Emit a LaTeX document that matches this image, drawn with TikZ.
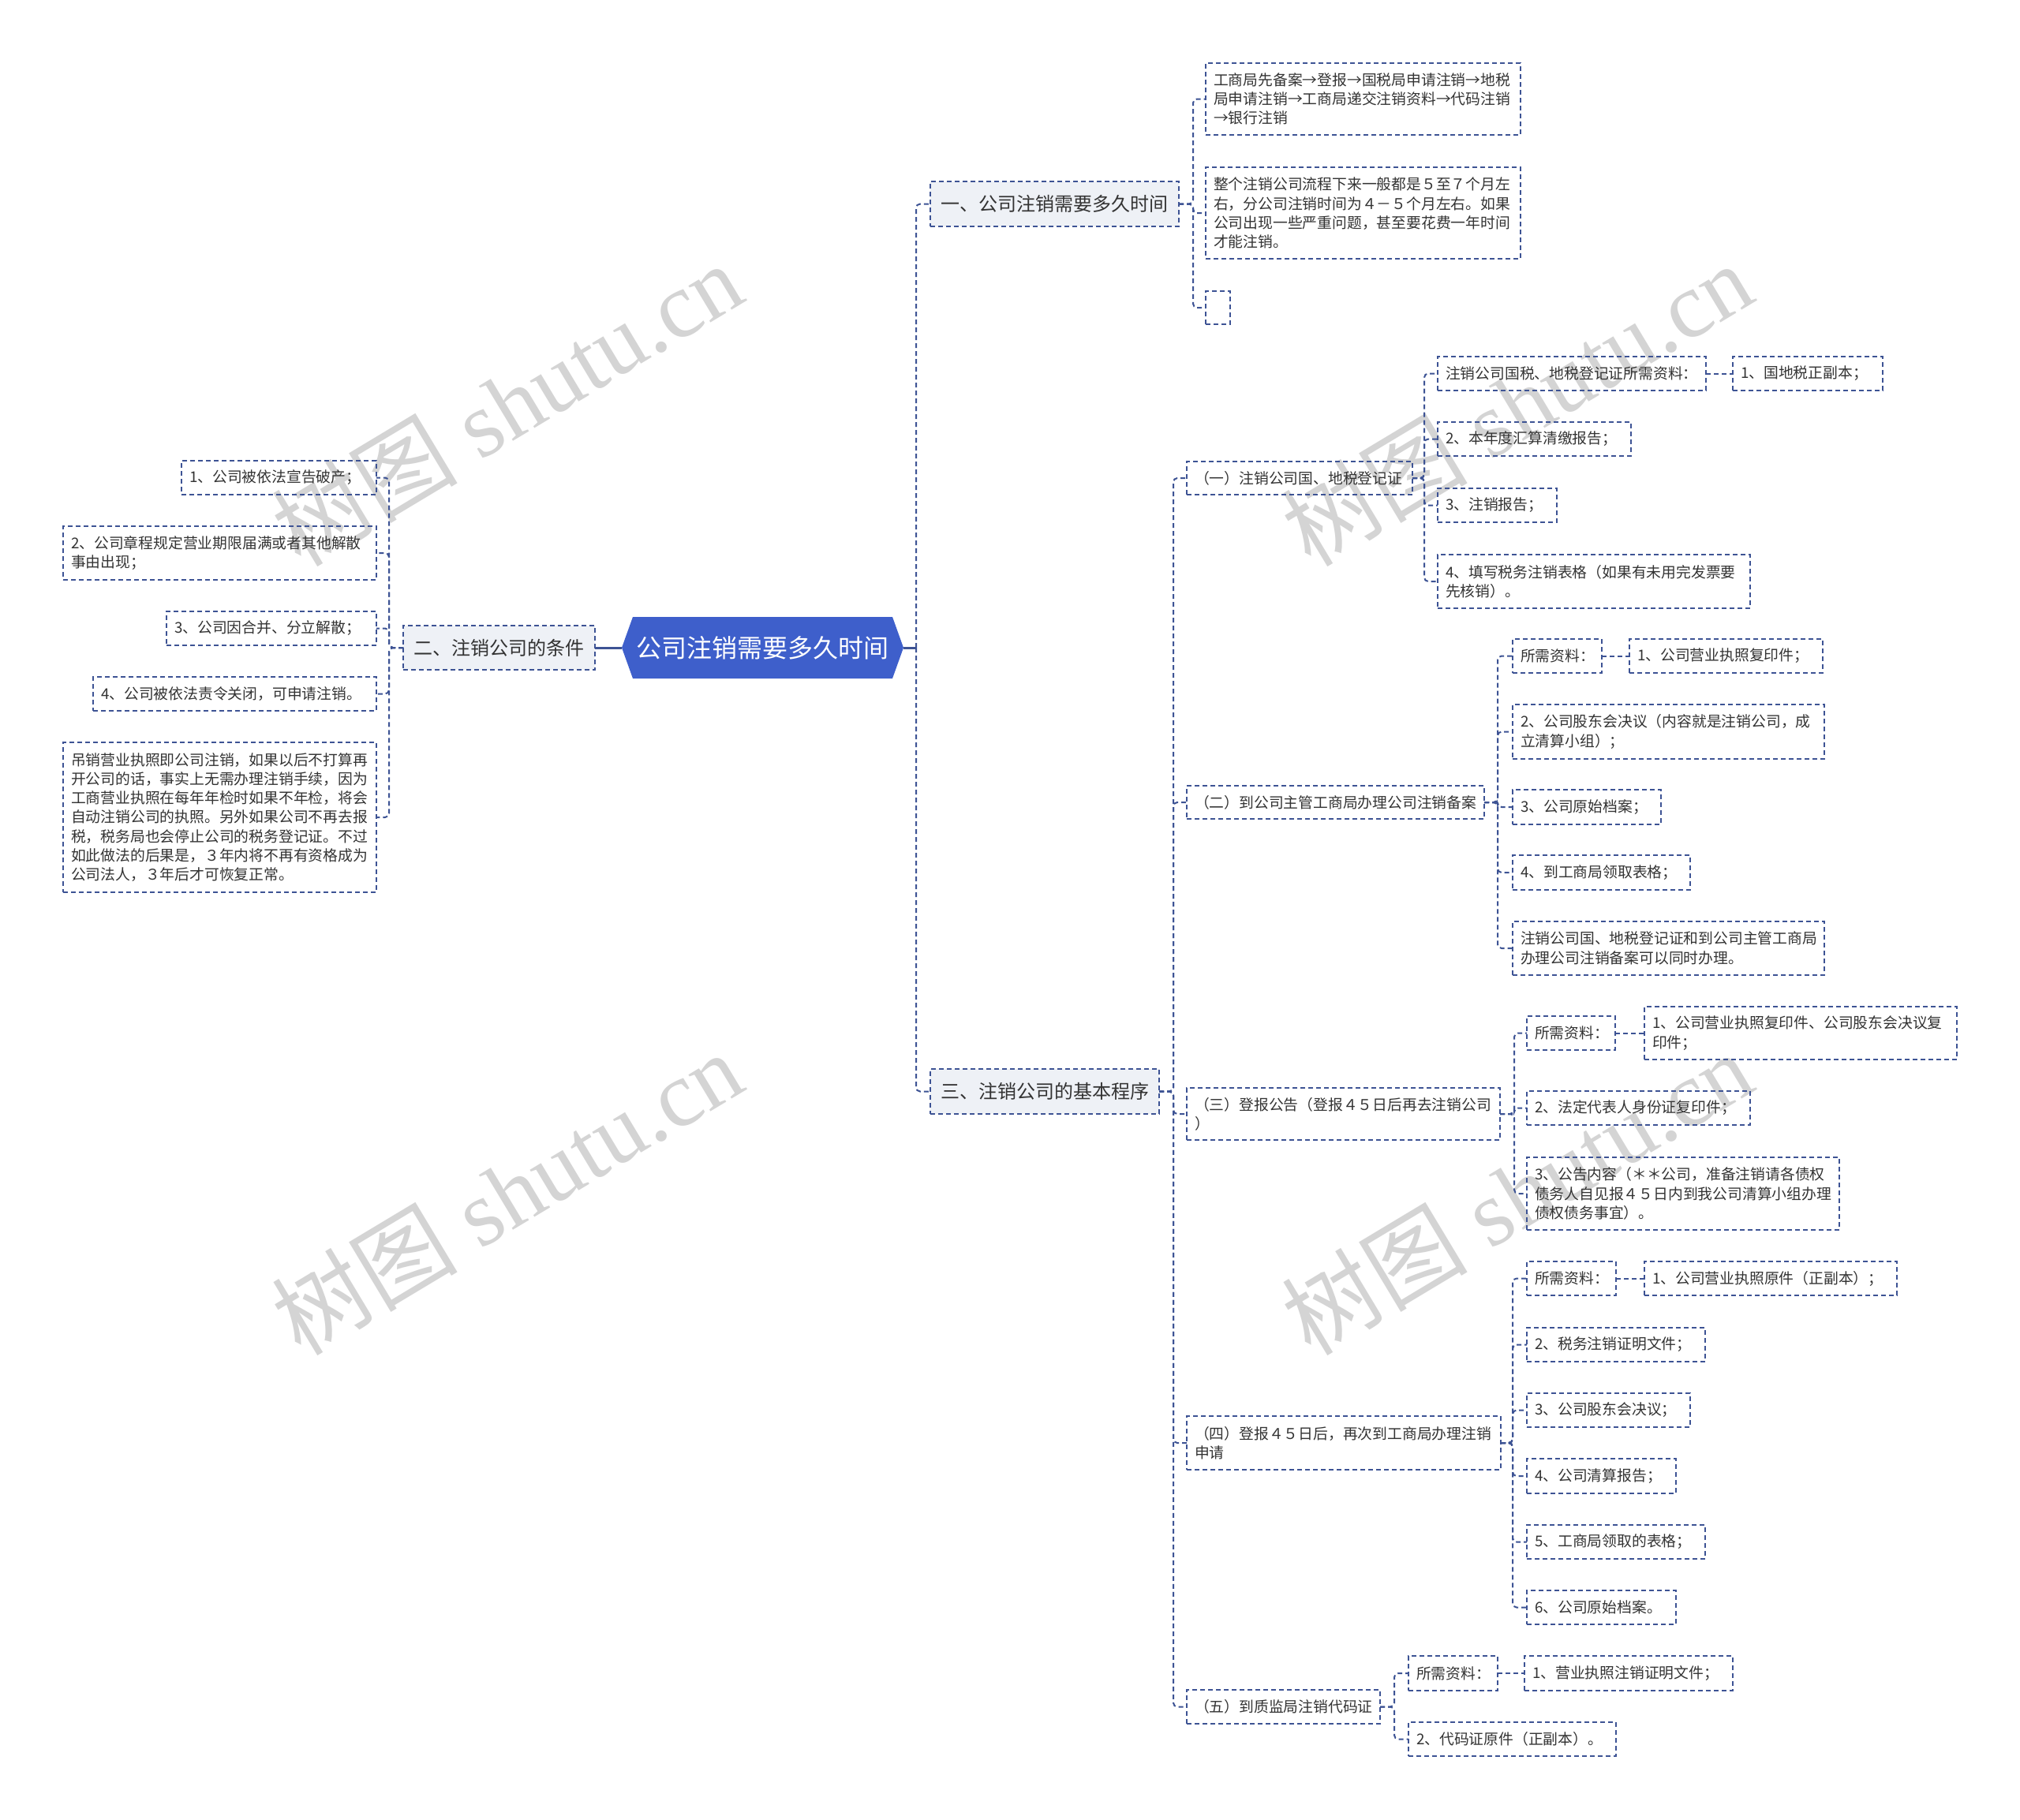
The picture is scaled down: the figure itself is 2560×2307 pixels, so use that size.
\documentclass[tikz,border=0pt]{standalone}
\usepackage{fontspec}
\newfontfamily\cjk{Noto Sans CJK SC}
\newfontfamily\wmserif{Liberation Serif}
\definecolor{lc}{HTML}{3D5394}
\definecolor{lonefill}{HTML}{EEF1F6}
\definecolor{rootc}{HTML}{3E5FCB}
\definecolor{txt}{HTML}{333333}
\definecolor{wm}{HTML}{D4D4D4}
\tikzset{
  leaf/.style={draw=lc, line width=2pt, dash pattern=on 6pt off 4pt, inner xsep=10pt, inner ysep=0pt,
    outer sep=0pt, anchor=north west, align=left, text=txt, font=\cjk\fontsize{18.8}{24.3}\selectfont},
  lvlone/.style={leaf, fill=lonefill, inner xsep=13pt, font=\cjk\fontsize{24}{30}\selectfont},
  conn/.style={draw=lc, line width=2pt, dash pattern=on 6pt off 4pt, rounded corners=5pt},
  solidc/.style={draw=lc, line width=3pt},
  wmark/.style={rotate=31, text=wm, font=\wmserif\fontsize{118}{118}\selectfont, inner sep=0pt},
  rootgeom/.style={minimum width=357pt, minimum height=78pt, inner sep=0pt, outer sep=0pt},
  roottext/.style={text=white, font=\cjk\fontsize{32}{38}\selectfont, inner sep=0pt}
}
\newcommand\leafbox[6]{\pgfmathsetmacro\tmpw{#4-20}\node[leaf,text width=\tmpw pt,minimum height=#5pt] (#1) at (#2,#3) {#6};}
\newcommand\lvlbox[6]{\pgfmathsetmacro\tmpw{#4-26}\node[lvlone,text width=\tmpw pt,minimum height=#5pt] (#1) at (#2,#3) {#6};}
\begin{document}
\begin{tikzpicture}[x=1pt,y=-1pt]
\fill[white] (0,0) rectangle (2560,2307);
\useasboundingbox (0,0) rectangle (2560,2307);

% watermarks
\node[wmark] (wa) at (642,512) {{\cjk 树图} shutu.cn};
\node[wmark] (wb) at (642,1512) {{\cjk 树图} shutu.cn};
\node[wmark] (wc) at (1922,512) {{\cjk 树图} shutu.cn};
\node[wmark] (wd) at (1922,1512) {{\cjk 树图} shutu.cn};

% root
\node[rootgeom] (root) at (966.5,821) {};
\fill[rootc] (root.west) -- ([xshift=14pt]root.north west) -- ([xshift=-14pt]root.north east)
  -- (root.east) -- ([xshift=-14pt]root.south east) -- ([xshift=14pt]root.south west) -- cycle;
\node[roottext] (rootlabel) at (root.center) {公司注销需要多久时间};

% level one
\lvlbox{A}{1179}{230}{315}{57}{一、公司注销需要多久时间}
\lvlbox{B}{511}{793}{243}{56}{二、注销公司的条件}
\lvlbox{C}{1179}{1355}{290}{57}{三、注销公司的基本程序}

% A children
\leafbox{A1}{1528}{80}{399}{91}{工商局先备案→登报→国税局申请注销→地税\\局申请注销→工商局递交注销资料→代码注销\\→银行注销}
\leafbox{A2}{1528}{212}{399}{116}{整个注销公司流程下来一般都是５至７个月左\\右，分公司注销时间为４－５个月左右。如果\\公司出现一些严重问题，甚至要花费一年时间\\才能注销。}
\leafbox{A3}{1528}{369}{31}{42}{}

% B children
\leafbox{B1}{230}{584}{247}{43}{1、公司被依法宣告破产；}
\leafbox{B2}{80}{667}{397}{68}{2、公司章程规定营业期限届满或者其他解散\\事由出现；}
\leafbox{B3}{211}{775}{266}{43}{3、公司因合并、分立解散；}
\leafbox{B4}{118}{858}{359}{43}{4、公司被依法责令关闭，可申请注销。}
\leafbox{B5}{80}{941}{397}{190}{吊销营业执照即公司注销，如果以后不打算再\\开公司的话，事实上无需办理注销手续，因为\\工商营业执照在每年年检时如果不年检，将会\\自动注销公司的执照。另外如果公司不再去报\\税，税务局也会停止公司的税务登记证。不过\\如此做法的后果是，３年内将不再有资格成为\\公司法人，３年后才可恢复正常。}

% C children
\leafbox{C1}{1504}{585}{286}{42}{（一）注销公司国、地税登记证}
\leafbox{C1a}{1822}{452}{340}{43}{注销公司国税、地税登记证所需资料：}
\leafbox{C1a1}{2196}{452}{190}{43}{1、国地税正副本；}
\leafbox{C1b}{1822}{535}{245}{43}{2、本年度汇算清缴报告；}
\leafbox{C1c}{1822}{619}{151}{43}{3、注销报告；}
\leafbox{C1d}{1822}{703}{396}{68}{4、填写税务注销表格（如果有未用完发票要\\先核销）。}

\leafbox{C2}{1504}{996}{377}{42}{（二）到公司主管工商局办理公司注销备案}
\leafbox{C2a}{1917}{810}{113}{43}{所需资料：}
\leafbox{C2a1}{2065}{810}{245}{43}{1、公司营业执照复印件；}
\leafbox{C2b}{1917}{893}{395}{69}{2、公司股东会决议（内容就是注销公司，成\\立清算小组）；}
\leafbox{C2c}{1917}{1001}{188}{44}{3、公司原始档案；}
\leafbox{C2d}{1917}{1084}{225}{44}{4、到工商局领取表格；}
\leafbox{C2e}{1917}{1168}{395}{68}{注销公司国、地税登记证和到公司主管工商局\\办理公司注销备案可以同时办理。}

\leafbox{C3}{1504}{1379}{397}{66}{（三）登报公告（登报４５日后再去注销公司\\）}
\leafbox{C3a}{1935}{1288}{112}{43}{所需资料：}
\leafbox{C3a1}{2084}{1276}{396}{67}{1、公司营业执照复印件、公司股东会决议复\\印件；}
\leafbox{C3b}{1935}{1383}{283}{43}{2、法定代表人身份证复印件；}
\leafbox{C3c}{1935}{1467}{396}{92}{3、公告内容（＊＊公司，准备注销请各债权\\债务人自见报４５日内到我公司清算小组办理\\债权债务事宜）。}

\leafbox{C4}{1504}{1795}{398}{68}{（四）登报４５日后，再次到工商局办理注销\\申请}
\leafbox{C4a}{1935}{1599}{113}{43}{所需资料：}
\leafbox{C4a1}{2084}{1599}{320}{43}{1、公司营业执照原件（正副本）；}
\leafbox{C4b}{1935}{1683}{226}{43}{2、税务注销证明文件；}
\leafbox{C4c}{1935}{1766}{207}{43}{3、公司股东会决议；}
\leafbox{C4d}{1935}{1849}{189}{44}{4、公司清算报告；}
\leafbox{C4e}{1935}{1933}{226}{43}{5、工商局领取的表格；}
\leafbox{C4f}{1935}{2016}{189}{43}{6、公司原始档案。}

\leafbox{C5}{1504}{2142}{245}{43}{（五）到质监局注销代码证}
\leafbox{C5a}{1785}{2099}{113}{44}{所需资料：}
\leafbox{C5a1}{1932}{2099}{264}{44}{1、营业执照注销证明文件；}
\leafbox{C5b}{1785}{2183}{263}{43}{2、代码证原件（正副本）。}

% connectors
\draw[solidc] (root.west) -- (B.east);
\draw[solidc] (root.east) -- ++(16,0) coordinate (rs);
\draw[conn] (rs) |- (A.west);
\draw[conn] (rs) |- (C.west);

\foreach \c in {A1,A2,A3} \draw[conn] (A.east) -- ++(18,0) |- (\c.west);
\foreach \c in {B1,B2,B3,B4,B5} \draw[conn] (B.west) -- ++(-18,0) |- (\c.east);
\foreach \c in {C1,C2,C3,C4,C5} \draw[conn] (C.east) -- ++(18,0) |- (\c.west);
\foreach \c in {C1a,C1b,C1c,C1d} \draw[conn] (C1.east) -- ++(15,0) |- (\c.west);
\foreach \c in {C2a,C2b,C2c,C2d,C2e} \draw[conn] (C2.east) -- ++(17,0) |- (\c.west);
\foreach \c in {C3a,C3b,C3c} \draw[conn] (C3.east) -- ++(18,0) |- (\c.west);
\foreach \c in {C4a,C4b,C4c,C4d,C4e,C4f} \draw[conn] (C4.east) -- ++(15,0) |- (\c.west);
\foreach \c in {C5a,C5b} \draw[conn] (C5.east) -- ++(18,0) |- (\c.west);
\draw[conn] (C1a.east) -- (C1a1.west);
\draw[conn] (C2a.east) -- (C2a1.west);
\draw[conn] (C3a.east) -- (C3a1.west);
\draw[conn] (C4a.east) -- (C4a1.west);
\draw[conn] (C5a.east) -- (C5a1.west);
\end{tikzpicture}
\end{document}
